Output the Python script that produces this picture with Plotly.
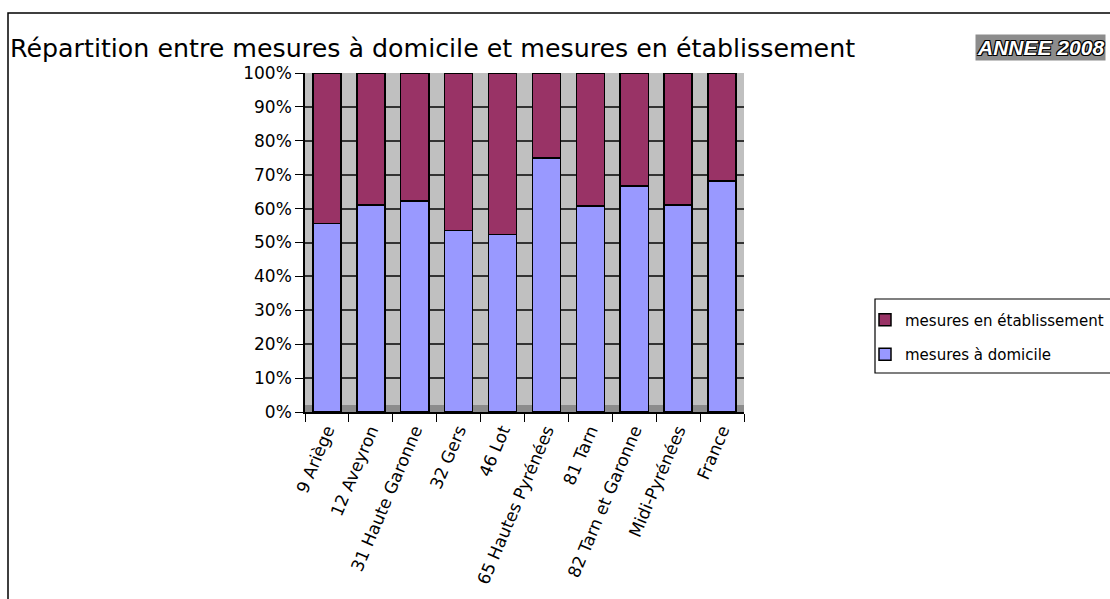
import plotly.graph_objects as go

categories = ["9 Ariège", "12 Aveyron", "31 Haute Garonne", "32 Gers", "46 Lot",
              "65 Hautes Pyrénées", "81 Tarn", "82 Tarn et Garonne", "Midi-Pyrénées", "France"]
domicile = [55.6, 61.1, 62.3, 53.5, 52.3, 74.9, 60.8, 66.6, 61.0, 68.2]
etablissement = [44.4, 38.9, 37.7, 46.5, 47.7, 25.1, 39.2, 33.4, 39.0, 31.8]
y_ticks = [0, 10, 20, 30, 40, 50, 60, 70, 80, 90, 100]
y_tick_labels = ["0%", "10%", "20%", "30%", "40%", "50%", "60%", "70%", "80%", "90%", "100%"]

W, H = 1110, 599
L, R, T, B = 305, 744, 73, 412  # plot area in pixels


def px(x):
    return (x - L) / (R - L)


def py(y):
    return (B - y) / (B - T)


FONT = "DejaVu Sans, Liberation Sans, Arial, sans-serif"

fig = go.Figure()
fig.add_trace(go.Bar(
    x=categories, y=domicile, name="mesures à domicile", legendgroup="a", legendrank=2,
    marker=dict(color="#9999FF", line=dict(color="#000000", width=1.5)),
))
fig.add_trace(go.Bar(
    x=categories, y=etablissement, name="mesures en établissement", legendgroup="b", legendrank=1,
    marker=dict(color="#993366", line=dict(color="#000000", width=1.5)),
))

fig.update_layout(
    width=W, height=H,
    barmode="stack", bargap=0.36,
    paper_bgcolor="white", plot_bgcolor="#C0C0C0",
    margin=dict(l=L, r=W - R, t=T, b=H - B, autoexpand=False),
    font=dict(family=FONT, color="#000000"),
    title=dict(
        text="Répartition entre mesures à domicile et mesures en établissement",
        xref="container", yref="container", x=10 / W, xanchor="left",
        y=1 - 48 / H, yanchor="middle",
        font=dict(family=FONT, size=25.3, color="#000000"),
    ),
    showlegend=True,
    legend=dict(
        x=px(865), xanchor="left", y=py(337), yanchor="middle",
        traceorder="grouped", tracegroupgap=12,
        font=dict(family=FONT, size=15, color="#000000"),
        bgcolor="rgba(0,0,0,0)", borderwidth=0,
    ),
    xaxis=dict(
        showline=True, linecolor="#000000", linewidth=1.5,
        ticks="outside", ticklen=8, tickcolor="#000000", tickson="boundaries",
        tickangle=-67, tickfont=dict(family=FONT, size=17, color="#000000"),
        showgrid=False,
    ),
    yaxis=dict(
        range=[0, 100], tickmode="array", tickvals=y_ticks, ticktext=y_tick_labels,
        showline=True, linecolor="#000000", linewidth=1.5,
        ticks="outside", ticklen=8, tickcolor="#000000",
        tickfont=dict(family=FONT, size=17, color="#000000"),
        showgrid=True, gridcolor="#333333", gridwidth=1.5,
        zeroline=False,
    ),
    shapes=[
        # chart outer border
        dict(type="rect", xref="paper", yref="paper",
             x0=px(8), x1=px(W + 20), y0=py(H + 20), y1=py(13),
             line=dict(color="#000000", width=1.5), fillcolor="rgba(0,0,0,0)", layer="below"),
        # floor of the 3D wall
        dict(type="rect", xref="paper", yref="paper",
             x0=0, x1=1, y0=0, y1=py(B - 7),
             line=dict(width=0), fillcolor="#8C8C8C", layer="below"),
        # legend border
        dict(type="rect", xref="paper", yref="paper",
             x0=px(875), x1=px(W + 20), y0=py(373), y1=py(299),
             line=dict(color="#000000", width=1.2), fillcolor="rgba(0,0,0,0)"),
    ],
    annotations=[
        dict(text="<b><i>ANNEE 2008</i></b>", xref="paper", yref="paper",
             x=px(1040), y=py(47), xanchor="center", yanchor="middle", showarrow=False,
             bgcolor="#8C8C8C", borderpad=1,
             font=dict(family="Liberation Sans, Arial", size=21, color="#FFFFFF",
                       shadow="-1px -1px 0 #000, 1px -1px 0 #000, -1px 1px 0 #000, 1px 1px 0 #000")),
    ],
)

fig.write_html("out.html")
